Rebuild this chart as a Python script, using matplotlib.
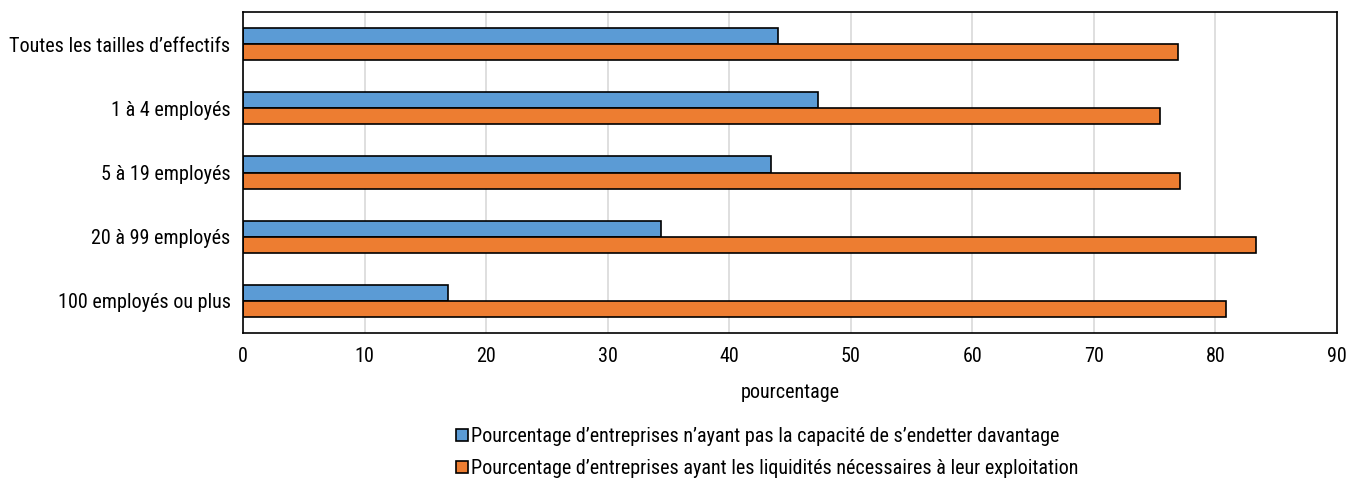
import numpy as np
import matplotlib.pyplot as plt

plt.rcParams['font.family'] = ['Roboto Condensed', 'Archivo Narrow', 'DejaVu Sans']

categories = ["Toutes les tailles d\u2019effectifs", "1 \u00e0 4 employ\u00e9s", "5 \u00e0 19 employ\u00e9s",
              "20 \u00e0 99 employ\u00e9s", "100 employ\u00e9s ou plus"]
no_debt = [44.0, 47.3, 43.4, 34.4, 16.9]
liquidity = [76.9, 75.4, 77.1, 83.3, 80.9]
labels = ["Pourcentage d\u2019entreprises n\u2019ayant pas la capacit\u00e9 de s\u2019endetter davantage",
          "Pourcentage d\u2019entreprises ayant les liquidit\u00e9s n\u00e9cessaires \u00e0 leur exploitation"]

fig = plt.figure(figsize=(13.51, 4.8), dpi=100)
ax = fig.add_axes([243 / 1351, 1 - 333 / 480, (1337 - 243) / 1351, (333 - 12) / 480])

y = np.arange(len(categories))
h = 0.25
ax.barh(y - h / 2, no_debt, height=h, color="#5B9BD5", edgecolor="black", linewidth=1.2,
        label=labels[0], zorder=2)
ax.barh(y + h / 2, liquidity, height=h, color="#ED7D31", edgecolor="black", linewidth=1.2,
        label=labels[1], zorder=2)

ax.set_xlim(0, 90)
ax.set_ylim(len(categories) - 0.5, -0.5)
ax.set_xticks(range(0, 91, 10))
ax.set_yticks(y)
ax.set_yticklabels(categories)
ax.tick_params(axis="both", length=0, labelsize=14.5)
ax.tick_params(axis="x", pad=10)
ax.tick_params(axis="y", pad=9)
ax.grid(axis="x", color="#D9D9D9", linewidth=1.2, zorder=0)
for s in ax.spines.values():
    s.set_linewidth(1.2)
ax.set_xlabel("pourcentage", fontsize=14.5, labelpad=12)

fig.legend(loc="upper left", bbox_to_anchor=(446 / 1351, 1 - 417 / 480), frameon=False,
           fontsize=14.5, handlelength=0.6, handleheight=0.6, handletextpad=0.15,
           labelspacing=0.65, borderpad=0)

fig.savefig("out.png", dpi=100)
